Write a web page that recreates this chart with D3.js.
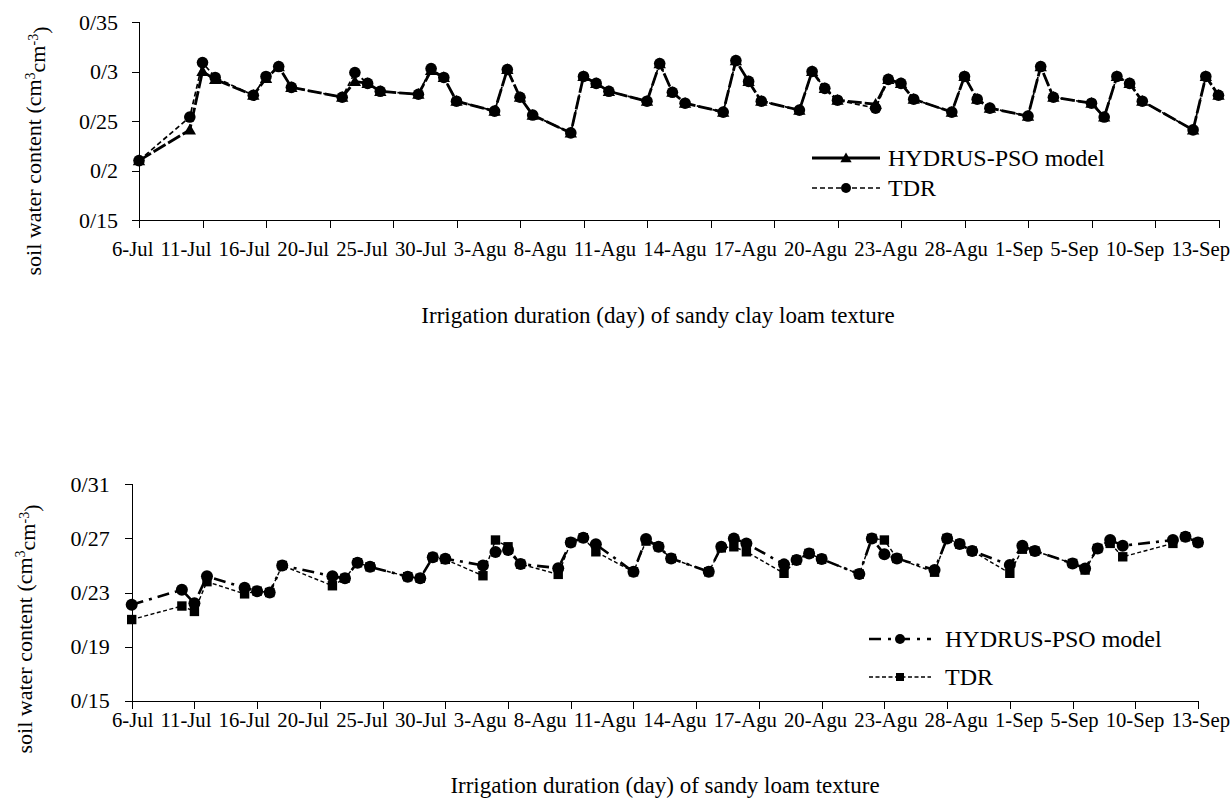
<!DOCTYPE html>
<html lang="en">
<head>
<meta charset="UTF-8">
<title>Soil water content – HYDRUS-PSO vs TDR</title>
<script src="https://cdnjs.cloudflare.com/ajax/libs/d3/7.9.0/d3.min.js"></script>
<style>
  body{margin:0;background:#fff;}
  svg{display:block;font-family:"Liberation Serif","Times New Roman",serif;}
  .axis path,.axis line{stroke:#000;stroke-width:1;shape-rendering:crispEdges;}
  .axis text{font-size:22px;fill:#000;font-family:"Liberation Serif","Times New Roman",serif;}
  .xlab{font-size:20.7px;fill:#000;}
  .lbl{font-size:23px;fill:#000;}
  .leg{font-size:24px;fill:#000;}
</style>
</head>
<body>
<svg id="chart" width="1232" height="798"></svg>
<script>
/* ---------- data ---------- */
// measurement position on the category axis (one tick label every 5 categories)
const dayIdx = [0,4,5,6,9,10,11,12,16,17,18,19,22,23,24,25,28,29,30,31,34,35,36,37,
  40,41,42,43,46,47,48,49,52,53,54,55,58,59,60,61,64,65,66,67,70,71,72,75,76,77,78,79,83,84,85];
const xLabels = ["6-Jul","11-Jul","16-Jul","20-Jul","25-Jul","30-Jul","3-Agu","8-Agu","11-Agu",
  "14-Agu","17-Agu","20-Agu","23-Agu","28-Agu","1-Sep","5-Sep","10-Sep","13-Sep"];

// sandy clay loam
const sclModel = [0.210,0.241,0.300,0.292,0.276,0.293,0.305,0.284,0.274,0.290,0.288,0.280,
  0.277,0.301,0.294,0.270,0.260,0.302,0.274,0.256,0.238,0.295,0.288,0.280,0.270,0.308,0.279,0.268,
  0.259,0.311,0.290,0.270,0.261,0.300,0.283,0.271,0.267,0.292,0.288,0.272,0.259,0.295,0.272,0.263,
  0.255,0.305,0.274,0.268,0.254,0.295,0.288,0.270,0.241,0.295,0.276];
const sclTdr = [0.210,0.254,0.309,0.294,0.276,0.295,0.305,0.284,0.274,0.299,0.288,0.280,
  0.277,0.303,0.294,0.270,0.260,0.302,0.274,0.256,0.238,0.295,0.288,0.280,0.270,0.308,0.279,0.268,
  0.259,0.311,0.290,0.270,0.261,0.300,0.283,0.271,0.263,0.292,0.288,0.272,0.259,0.295,0.272,0.263,
  0.255,0.305,0.274,0.268,0.254,0.295,0.288,0.270,0.241,0.295,0.276];
const sclYTicks = [0.15,0.20,0.25,0.30,0.35];
const sclYLabels = ["0/15","0/2","0/25","0/3","0/35"];

// sandy loam
const slModel = [0.221,0.232,0.222,0.242,0.2335,0.231,0.230,0.250,0.242,0.2405,0.252,0.249,
  0.2417,0.2405,0.256,0.255,0.250,0.260,0.2614,0.251,0.248,0.267,0.2705,0.2656,0.2453,0.2695,0.2638,0.2552,
  0.2453,0.2638,0.270,0.2663,0.2508,0.254,0.2589,0.2547,0.2436,0.270,0.2582,0.2552,0.2466,0.270,0.2658,0.2607,
  0.2503,0.2646,0.2607,0.2515,0.2478,0.2626,0.2688,0.2646,0.2688,0.2712,0.267];
const slTdr = [0.210,0.220,0.216,0.238,0.229,0.231,0.230,0.250,0.235,0.2405,0.252,0.249,
  0.2417,0.2405,0.256,0.2545,0.2424,0.2688,0.2638,0.251,0.2434,0.267,0.2705,0.2601,0.2453,0.268,0.2638,0.2552,
  0.2453,0.263,0.2638,0.2601,0.2442,0.254,0.2589,0.2547,0.2436,0.270,0.2688,0.2552,0.245,0.270,0.2658,0.2607,
  0.2442,0.262,0.2607,0.2515,0.2466,0.2626,0.2663,0.2564,0.2663,0.2712,0.267];
const slYTicks = [0.15,0.19,0.23,0.27,0.31];
const slYLabels = ["0/15","0/19","0/23","0/27","0/31"];

const svg = d3.select("#chart");

function marker(g, type, x, y, size){
  if(type==="circle") g.append("circle").attr("cx",x).attr("cy",y).attr("r",size).attr("fill","#000");
  else if(type==="square") g.append("rect").attr("x",x-size).attr("y",y-size)
      .attr("width",size*2).attr("height",size*2).attr("fill","#000");
  else g.append("path").attr("transform",`translate(${x},${y+1})`)
      .attr("d",d3.symbol().type(d3.symbolTriangle).size(size*size*2.2)()).attr("fill","#000");
}

function panel(p){
  const x = d3.scaleLinear().domain([0,85]).range([p.left,p.right]);
  const y = d3.scaleLinear().domain([p.yTicks[0],p.yTicks[p.yTicks.length-1]]).range([p.bottom,p.top]);

  // axes
  svg.append("g").attr("class","axis").attr("transform",`translate(${p.left},0)`)
    .call(d3.axisLeft(y).tickValues(p.yTicks).tickSizeOuter(0).tickSize(7).tickPadding(p.yPad)
      .tickFormat((d,i)=>p.yLabels[i]));
  svg.append("g").attr("class","axis").attr("transform",`translate(0,${p.bottom})`)
    .call(d3.axisBottom(x).tickValues(xLabels.map((d,i)=>i*5)).tickSizeOuter(0).tickSize(8)
      .tickFormat(""));

  // category labels: in the source they run as one line, a space apart
  const lab = svg.append("g").selectAll("text").data(xLabels).join("text")
    .attr("class","xlab").attr("y",p.xLabY).text(d=>d);
  const w = lab.nodes().map(n=>n.getComputedTextLength());
  const gap = (p.labEnd - p.labStart - d3.sum(w)) / (xLabels.length-1);
  let cx = p.labStart;
  lab.attr("x",(d,i)=>{ const v = cx; cx += w[i] + gap; return v; });

  // series
  p.series.forEach(s=>{
    const pts = dayIdx.map((d,i)=>[x(d), y(s.values[i])]);
    svg.append("path").attr("d",d3.line()(pts)).attr("fill","none")
      .attr("stroke","#000").attr("stroke-width",s.width).attr("stroke-dasharray",s.dash);
    const g = svg.append("g");
    pts.forEach(pt=>marker(g, s.marker, pt[0], pt[1], s.size));
  });

  // legend
  p.legend.forEach((s,i)=>{
    const ly = p.legY + i*p.legGap;
    svg.append("line").attr("x1",p.legX0).attr("x2",p.legX1).attr("y1",ly).attr("y2",ly)
      .attr("stroke","#000").attr("stroke-width",s.width).attr("stroke-dasharray",s.legDash);
    marker(svg, s.marker, (p.legX0+p.legX1)/2, ly, s.legSize);
    svg.append("text").attr("class","leg").attr("x",p.legText).attr("y",ly).attr("dy","0.35em").text(s.name);
  });

  // axis titles
  svg.append("text").attr("class","lbl").attr("x",p.xTitleX).attr("y",p.xTitleY)
    .attr("text-anchor","middle").text(p.xTitle);
  const yt = svg.append("text").attr("class","lbl").attr("text-anchor","middle")
    .attr("transform",`translate(${p.yTitleX},${p.yTitleY}) rotate(-90)`).style("font-size","22px");
  yt.append("tspan").text("soil water content (cm");
  yt.append("tspan").attr("dy","-0.45em").style("font-size","14px").text("3");
  yt.append("tspan").attr("dy","0.45em").text("cm");
  yt.append("tspan").attr("dy","-0.45em").style("font-size","14px").text("-3");
  yt.append("tspan").attr("dy","0.45em").text(")");
}

panel({
  left:139,right:1218.5,top:22,bottom:220,yPad:14,
  xLabY:256,labStart:112,labEnd:1230,
  yTicks:sclYTicks,yLabels:sclYLabels,
  series:[
    {values:sclModel,marker:"triangle",size:5.5,width:2.8,dash:"14,3"},
    {values:sclTdr,marker:"circle",size:5.8,width:1.7,dash:"5,3"}],
  legend:[
    {name:"HYDRUS-PSO model",marker:"triangle",legSize:5,width:2.8,legDash:null},
    {name:"TDR",marker:"circle",legSize:5,width:1.7,legDash:"5,3"}],
  legX0:812,legX1:880,legText:888,legY:158,legGap:30,
  xTitle:"Irrigation duration (day) of sandy clay loam texture",xTitleX:658,xTitleY:323,
  yTitleX:41,yTitleY:151
});

panel({
  left:131.7,right:1198,top:484.3,bottom:700.7,yPad:15,
  xLabY:726.5,labStart:112,labEnd:1230,
  yTicks:slYTicks,yLabels:slYLabels,
  series:[
    {values:slTdr,marker:"square",size:4.7,width:1.4,dash:"4,2.5"},
    {values:slModel,marker:"circle",size:6,width:2.6,dash:"12,6,3,6"}],
  legend:[
    {name:"HYDRUS-PSO model",marker:"circle",legSize:5,width:2.6,legDash:"12,7,3,7"},
    {name:"TDR",marker:"square",legSize:4,width:1.4,legDash:"4,2.5"}],
  legX0:869,legX1:931,legText:945,legY:639,legGap:38,
  xTitle:"Irrigation duration (day) of sandy loam texture",xTitleX:665,xTitleY:793,
  yTitleX:31.7,yTitleY:629
});
</script>
</body>
</html>
